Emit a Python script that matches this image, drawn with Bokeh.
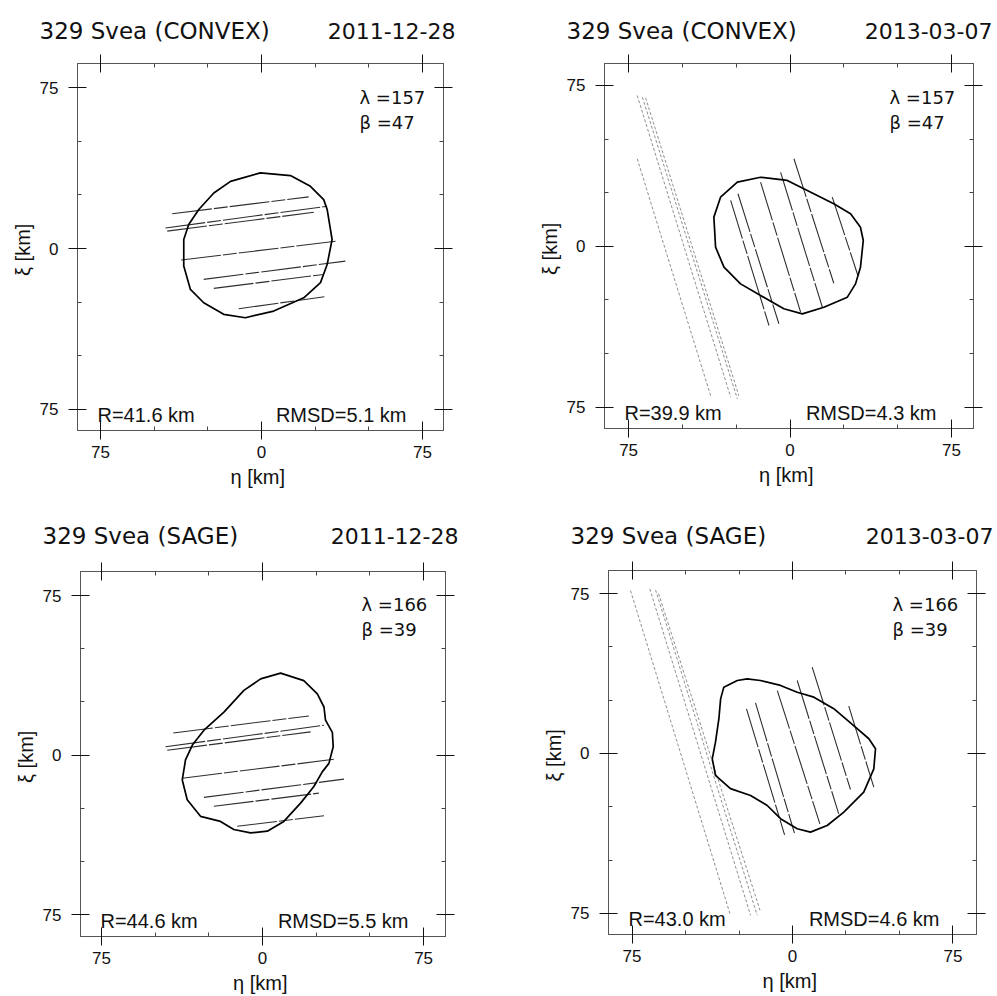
from bokeh.plotting import figure
from bokeh.models import Range1d, FixedTicker, LinearAxis, Label
from bokeh.layouts import column, row
from bokeh.embed import file_html
from bokeh.resources import INLINE

# ---- fit results (shape model, epoch, pole, size, residual) ----
models = ["CONVEX", "CONVEX", "SAGE", "SAGE"]
dates = ["2011-12-28", "2013-03-07", "2011-12-28", "2013-03-07"]
lambdas = [157, 157, 166, 166]
betas = [47, 47, 39, 39]
radii = ["41.6", "39.9", "44.6", "43.0"]
rmsds = ["5.1", "4.3", "5.5", "4.6"]

# ---- projected silhouettes (eta, xi in km) ----
convex_2011_eta = [-0.5, 13.5, 22.8, 29.0, 30.6, 32.9, 30.6, 27.5, 19.7, 5.7, -7.5,
                   -17.6, -26.9, -33.1, -36.2, -36.2, -33.9, -29.2, -22.2, -14.4]
convex_2011_xi = [35.3, 34.0, 29.0, 22.8, 18.2, 4.2, -7.5, -15.9, -23.0, -29.2, -32.3,
                  -30.7, -25.3, -19.1, -8.2, 4.2, 11.2, 18.2, 25.9, 31.3]

convex_2013_eta = [-13.7, -1.3, 8.0, 20.3, 28.1, 32.7, 34.0, 32.7, 30.4, 26.6, 15.7,
                   5.7, -2.9, -13.7, -23.0, -30.7, -34.6, -35.4, -32.3, -24.5]
convex_2013_xi = [32.2, 30.7, 26.0, 19.8, 15.2, 8.9, 2.7, -9.7, -17.5, -23.7, -28.4,
                  -31.5, -29.1, -22.9, -17.5, -9.7, -0.4, 13.6, 22.9, 29.9]

sage_2011_eta = [8.4, 19.2, 25.5, 28.6, 29.3, 32.5, 32.9, 30.9, 27.8, 23.9, 17.7, 9.9,
                 2.2, -5.6, -13.4, -19.6, -28.9, -35.1, -37.4, -35.9, -32.7, -27.3,
                 -18.0, -8.7, -0.9]
sage_2011_xi = [38.5, 35.0, 28.8, 22.6, 16.4, 10.7, 3.9, -3.9, -7.9, -14.8, -22.6, -31.2,
                -35.8, -36.6, -35.0, -31.2, -28.8, -21.0, -11.7, -2.3, 4.7, 11.7,
                20.2, 30.4, 35.8]

sage_2013_eta = [-21.2, -15.0, -5.6, 2.2, 10.0, 19.3, 28.6, 35.7, 38.8, 38.0, 33.3, 24.0,
                 16.2, 8.4, 2.2, -5.6, -11.8, -19.6, -29.0, -36.0, -37.5, -36.0, -34.4,
                 -33.6, -32.1, -25.8]
sage_2013_xi = [35.0, 34.2, 31.9, 28.7, 26.4, 21.0, 13.1, 6.9, 2.2, -7.2, -18.1, -27.5,
                -33.8, -36.9, -35.3, -30.6, -24.4, -19.7, -16.5, -10.3, -2.5, 5.3, 16.3,
                25.6, 31.1, 34.2]

# ---- positive occultation chords (start / end) ----
convex_2011_chord_eta0 = [-41.6, -44.7, -43.9, -37.4, -26.9, -22.2, -10.6]
convex_2011_chord_xi0 = [16.2, 9.6, 8.1, -5.4, -14.4, -18.6, -28.1]
convex_2011_chord_eta1 = [22.0, 30.6, 24.4, 34.5, 39.1, 29.0, 29.3]
convex_2011_chord_xi1 = [24.1, 19.7, 16.9, 3.4, -5.9, -12.1, -22.5]

convex_2013_chord_eta0 = [-27.6, -24.2, -13.7, -4.4, 1.8, 19.6]
convex_2013_chord_xi0 = [21.4, 24.5, 29.9, 34.5, 40.8, 22.9]
convex_2013_chord_eta1 = [-9.8, -5.2, 4.9, 15.0, 20.3, 31.5]
convex_2013_chord_xi1 = [-36.9, -36.1, -30.7, -28.4, -17.2, -13.6]

sage_2011_chord_eta0 = [-41.6, -45.2, -44.4, -37.4, -27.3, -22.7, -11.8]
sage_2011_chord_xi0 = [10.4, 3.9, 2.3, -10.9, -19.9, -24.1, -33.5]
sage_2011_chord_eta1 = [21.6, 28.6, 22.4, 33.2, 37.9, 26.2, 28.6]
sage_2011_chord_xi1 = [18.4, 14.0, 10.9, -2.0, -11.3, -17.9, -28.5]

sage_2013_chord_eta0 = [-21.5, -17.3, -7.1, 2.2, 9.2, 26.3]
sage_2013_chord_xi0 = [20.9, 23.7, 29.5, 34.2, 40.5, 22.2]
sage_2013_chord_eta1 = [-3.7, 0.9, 12.8, 21.6, 27.1, 38.0]
sage_2013_chord_xi1 = [-38.2, -37.3, -33.0, -28.3, -16.9, -15.8]

# ---- negative (miss) chords, 2013 event ----
convex_2013_miss_eta0 = [-71.0, -71.0, -68.6, -67.1]
convex_2013_miss_xi0 = [40.8, 70.3, 69.5, 69.2]
convex_2013_miss_eta1 = [-36.9, -27.6, -24.5, -23.8]
convex_2013_miss_xi1 = [-69.6, -70.3, -71.1, -69.6]

sage_2013_miss_eta0 = [-75.7, -66.7, -64.0, -62.6]
sage_2013_miss_xi0 = [76.4, 77.2, 76.7, 75.0]
sage_2013_miss_eta1 = [-29.0, -19.6, -16.5, -15.2]
sage_2013_miss_xi1 = [-75.9, -75.9, -75.9, -73.5]

tick_values = [-75, 0, 75]
tick_labels = {-75: "75", 0: "0", 75: "75"}
minor_values = [-50, -25, 25, 50]

panels = [
    dict(eta=convex_2011_eta, xi=convex_2011_xi,
         c=(convex_2011_chord_eta0, convex_2011_chord_xi0, convex_2011_chord_eta1, convex_2011_chord_xi1),
         m=None),
    dict(eta=convex_2013_eta, xi=convex_2013_xi,
         c=(convex_2013_chord_eta0, convex_2013_chord_xi0, convex_2013_chord_eta1, convex_2013_chord_xi1),
         m=(convex_2013_miss_eta0, convex_2013_miss_xi0, convex_2013_miss_eta1, convex_2013_miss_xi1)),
    dict(eta=sage_2011_eta, xi=sage_2011_xi,
         c=(sage_2011_chord_eta0, sage_2011_chord_xi0, sage_2011_chord_eta1, sage_2011_chord_xi1),
         m=None),
    dict(eta=sage_2013_eta, xi=sage_2013_xi,
         c=(sage_2013_chord_eta0, sage_2013_chord_xi0, sage_2013_chord_eta1, sage_2013_chord_xi1),
         m=(sage_2013_miss_eta0, sage_2013_miss_xi0, sage_2013_miss_eta1, sage_2013_miss_xi1)),
]

# canvas geometry of each panel: header strip (height, title baseline from its top),
# plot size, borders and visible range
frames = [
    dict(w=498, hh=48, tb=30, h=450, l=77, r=55, t=15, b=68, xr=(-85.7, 84.8), yr=(-84.9, 86.3), dx=12),
    dict(w=499, hh=48, tb=30, h=450, l=106, r=24, t=15, b=70, xr=(-86.2, 85.2), yr=(-84.9, 85.2), dx=19),
    dict(w=498, hh=56, tb=37, h=442, l=80, r=53, t=17, b=59, xr=(-84.8, 85.2), yr=(-85.3, 86.3), dx=13),
    dict(w=499, hh=56, tb=37, h=442, l=110, r=21, t=16, b=62, xr=(-86.0, 86.0), yr=(-84.9, 85.8), dx=17),
]

SANS = "Liberation Sans"
WIDE = "DejaVu Sans"
INK = "#111111"


def add_axis(p, loc, labelled):
    ax = LinearAxis(ticker=FixedTicker(ticks=tick_values, minor_ticks=minor_values))
    ax.major_tick_in = 9
    ax.major_tick_out = 9
    ax.minor_tick_in = 4
    ax.minor_tick_out = 0
    ax.major_tick_line_color = INK
    ax.minor_tick_line_color = "#444444"
    ax.axis_line_color = "#555555"
    if labelled:
        ax.major_label_overrides = tick_labels
        ax.major_label_text_font = SANS
        ax.major_label_text_font_size = "17px"
        ax.major_label_text_color = INK
        ax.major_label_standoff = 6 if loc == "below" else 10
        ax.axis_label = "η  [km]" if loc == "below" else "ξ  [km]"
        ax.axis_label_text_font = SANS
        ax.axis_label_text_font_size = "20px"
        ax.axis_label_text_font_style = "normal"
        ax.axis_label_text_color = INK
        ax.axis_label_standoff = 5 if loc == "below" else 3
    else:
        ax.major_label_text_color = None
        ax.major_label_text_font_size = "1px"
        ax.major_label_standoff = 0
    p.add_layout(ax, loc)


def make_header(i):
    f = frames[i]
    fw = f["w"] - f["l"] - f["r"]
    h = figure(width=f["w"], height=f["hh"], output_backend="svg", toolbar_location=None,
               x_range=Range1d(0, f["w"]), y_range=Range1d(0, f["hh"]),
               x_axis_location=None, y_axis_location=None, min_border=0,
               frame_align=False)
    h.xgrid.visible = False
    h.ygrid.visible = False
    h.outline_line_color = None
    base = f["hh"] - f["tb"]
    h.add_layout(Label(x=f["l"] - 38, y=base, x_units="screen", y_units="screen",
                       text=f"329 Svea  ({models[i]})", text_font=WIDE,
                       text_font_size="23px", text_color=INK, text_baseline="alphabetic"))
    h.add_layout(Label(x=f["l"] + fw + f["dx"], y=base, x_units="screen", y_units="screen",
                       text=dates[i], text_font=WIDE, text_font_size="22px",
                       text_color=INK, text_align="right", text_baseline="alphabetic"))
    return h


def make_panel(i):
    d = panels[i]
    f = frames[i]
    fw = f["w"] - f["l"] - f["r"]
    fh = f["h"] - f["t"] - f["b"]
    p = figure(width=f["w"], height=f["h"], output_backend="svg", toolbar_location=None,
               x_range=Range1d(*f["xr"]), y_range=Range1d(*f["yr"]),
               x_axis_location=None, y_axis_location=None,
               min_border_left=f["l"], min_border_right=f["r"],
               min_border_top=f["t"], min_border_bottom=f["b"],
               frame_align=False)
    p.xgrid.visible = False
    p.ygrid.visible = False
    p.outline_line_color = "#666666"
    p.outline_line_width = 1

    add_axis(p, "below", True)
    add_axis(p, "left", True)
    add_axis(p, "above", False)
    add_axis(p, "right", False)

    if d["m"] is not None:
        p.segment(x0=d["m"][0], y0=d["m"][1], x1=d["m"][2], y1=d["m"][3],
                  line_color="#8f8f8f", line_width=1, line_dash="3 2")
    p.segment(x0=d["c"][0], y0=d["c"][1], x1=d["c"][2], y1=d["c"][3],
              line_color="#2e2e2e", line_width=1.1, line_dash="40 2 14 2")
    p.patch(x=d["eta"], y=d["xi"], fill_color=None, line_color="black", line_width=1.7,
            line_join="round")

    def lab(text, x, y, font, size, align="left"):
        p.add_layout(Label(x=x, y=y, x_units="screen", y_units="screen", text=text,
                           text_font=font, text_font_size=size, text_color=INK,
                           text_align=align, text_baseline="alphabetic"))

    lab(f"λ ={lambdas[i]}", fw - 84, fh - 34, WIDE, "18px")
    lab(f"β ={betas[i]}", fw - 84, fh - 59, WIDE, "18px")
    lab(f"R={radii[i]} km", 20, 16, SANS, "20px")
    lab(f"RMSD={rmsds[i]} km", fw - 37, 16, SANS, "20px", "right")
    return p


cells = [column(make_header(i), make_panel(i)) for i in range(4)]
layout = column(row(cells[0], cells[1]), row(cells[2], cells[3]))

open("out.html", "w").write(file_html(layout, INLINE))
